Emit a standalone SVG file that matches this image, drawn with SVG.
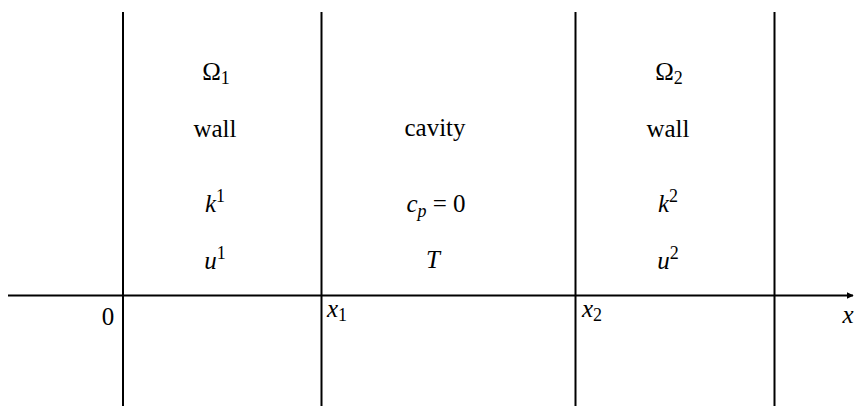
<svg xmlns="http://www.w3.org/2000/svg" width="854" height="406" viewBox="0 0 854 406" font-family="Liberation Serif, DejaVu Serif, serif">
<style>
.ln{stroke:#000;stroke-width:2;fill:none}
text{font-family:"Liberation Serif","Times New Roman","DejaVu Serif",serif;font-size:25px;fill:#000}
.c{text-anchor:middle}
.s{font-size:18px;font-style:normal}
.i{font-style:italic}
</style>
<defs>
<marker id="arr" viewBox="0 0 10 10" refX="9" refY="5" markerWidth="7" markerHeight="7" markerUnits="userSpaceOnUse" orient="auto">
<path d="M0,0 L10,5 L0,10 Z" fill="#000"/>
</marker>
</defs>
<g id="connectors">
<line class="ln" x1="8" y1="295.5" x2="853" y2="295.5" marker-end="url(#arr)"/>
<line class="ln" x1="123" y1="12" x2="123" y2="406"/>
<line class="ln" x1="321.5" y1="12" x2="321.5" y2="406"/>
<line class="ln" x1="575.5" y1="12" x2="575.5" y2="406"/>
<line class="ln" x1="774.5" y1="12" x2="774.5" y2="406"/>
</g>
<g id="wall1">
<text class="c" x="216" y="80">Ω<tspan class="s" dy="4">1</tspan></text>
<text class="c" x="215" y="137">wall</text>
<text class="c" x="215" y="212"><tspan class="i">k</tspan><tspan class="s" dy="-10">1</tspan></text>
<text class="c" x="215" y="269"><tspan class="i">u</tspan><tspan class="s" dy="-10">1</tspan></text>
</g>
<g id="cavity">
<text class="c" x="435" y="136">cavity</text>
<text class="c" x="436" y="212"><tspan class="i">c</tspan><tspan class="s i" dy="5">p</tspan><tspan dy="-5"> = 0</tspan></text>
<text class="c i" x="433" y="268">T</text>
</g>
<g id="wall2">
<text class="c" x="669" y="80">Ω<tspan class="s" dy="4">2</tspan></text>
<text class="c" x="668" y="137">wall</text>
<text class="c" x="668" y="212"><tspan class="i">k</tspan><tspan class="s" dy="-10">2</tspan></text>
<text class="c" x="668" y="269"><tspan class="i">u</tspan><tspan class="s" dy="-10">2</tspan></text>
</g>
<g id="axis-labels">
<text class="c" x="108" y="325">0</text>
<text x="327" y="317"><tspan class="i">x</tspan><tspan class="s" dy="4">1</tspan></text>
<text x="582" y="317"><tspan class="i">x</tspan><tspan class="s" dy="4">2</tspan></text>
<text class="c i" x="848" y="323">x</text>
</g>
</svg>
